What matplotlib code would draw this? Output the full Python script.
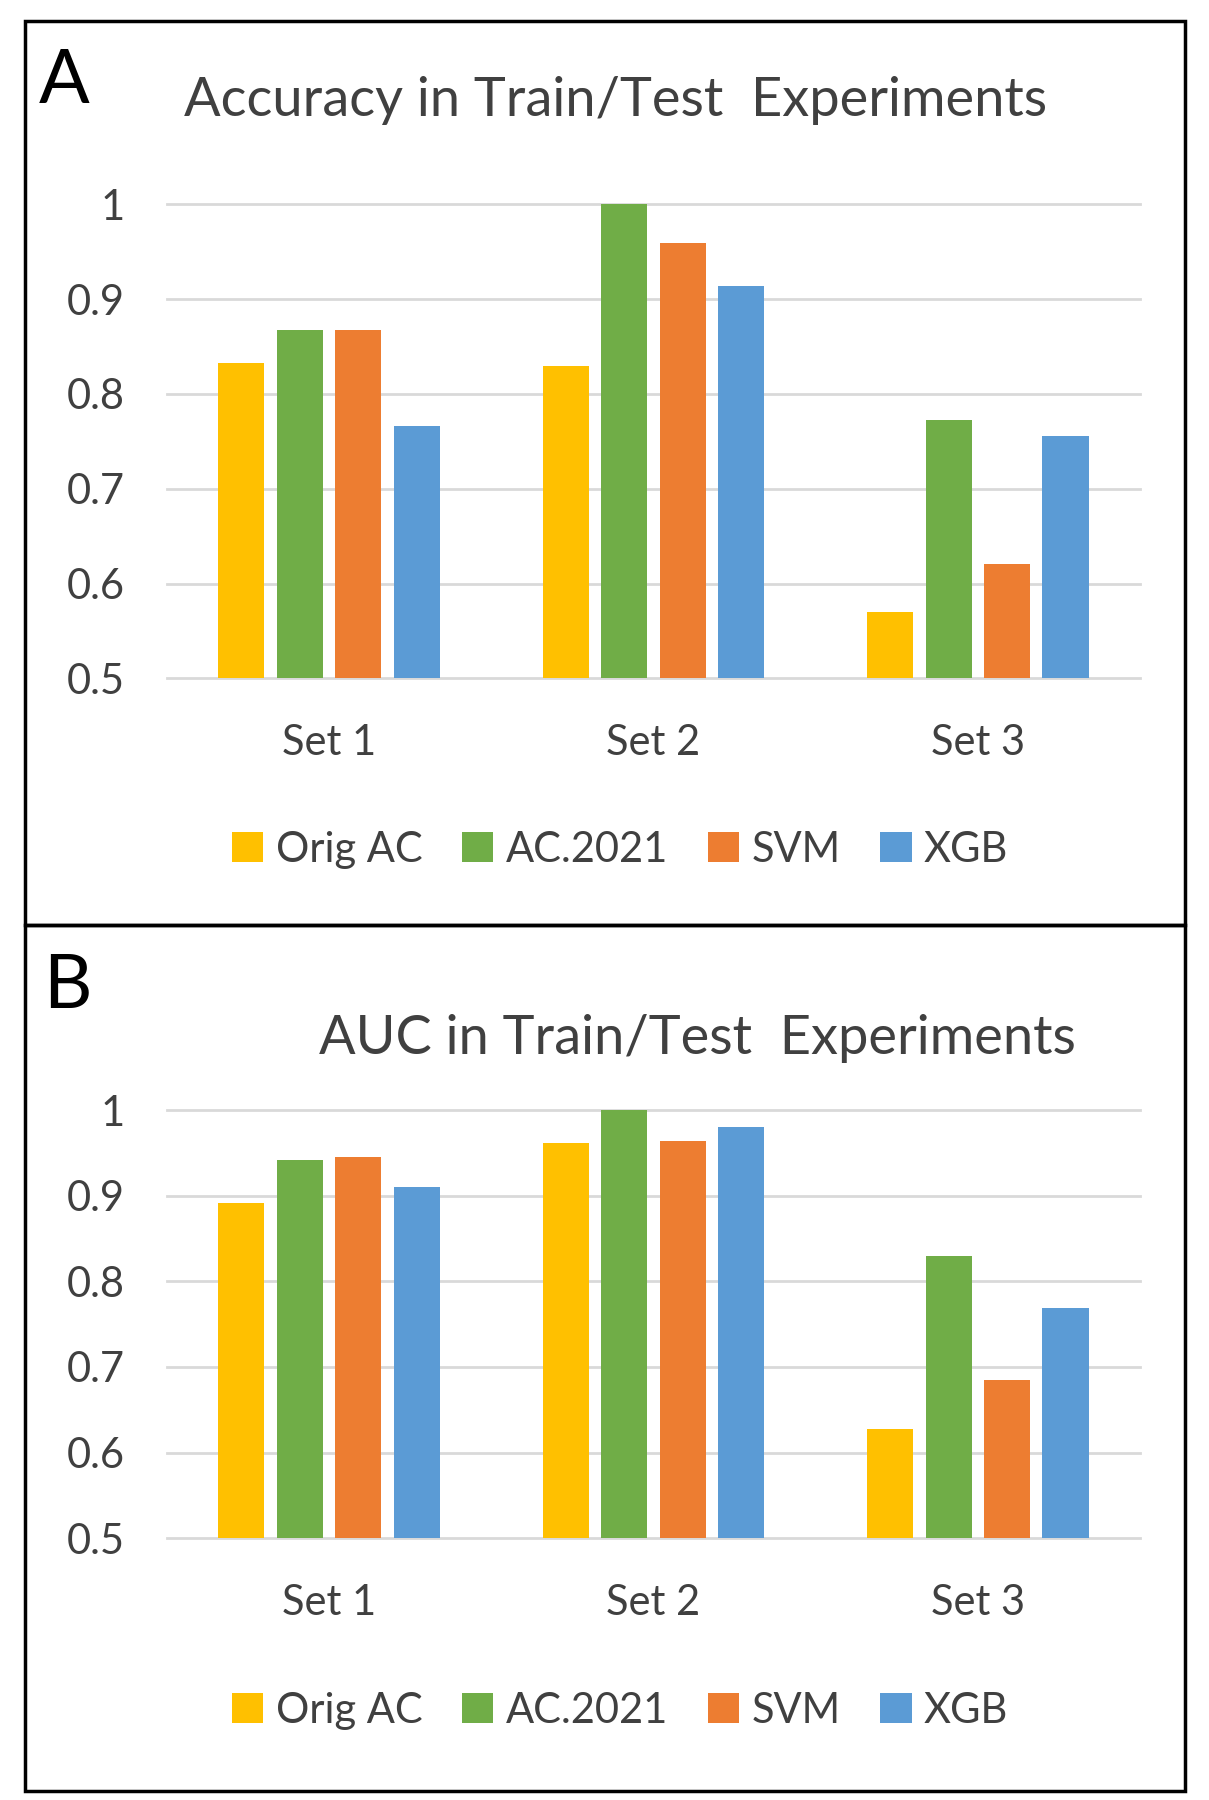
import matplotlib.pyplot as plt
from matplotlib.patches import Patch, Rectangle

plt.rcParams['font.family'] = ['Lato', 'DejaVu Sans']

# data
sets = ["Set 1", "Set 2", "Set 3"]
models = ["Orig AC", "AC.2021", "SVM", "XGB"]
colors = ["#FFC000", "#70AD47", "#ED7D31", "#5B9BD5"]

acc_orig = [0.833, 0.829, 0.570]
acc_ac2021 = [0.867, 1.000, 0.773]
acc_svm = [0.867, 0.959, 0.621]
acc_xgb = [0.766, 0.914, 0.756]

auc_orig = [0.892, 0.961, 0.628]
auc_ac2021 = [0.942, 1.000, 0.830]
auc_svm = [0.945, 0.964, 0.685]
auc_xgb = [0.910, 0.980, 0.769]

yticks = [0.5, 0.6, 0.7, 0.8, 0.9, 1.0]
ytick_labels = ["0.5", "0.6", "0.7", "0.8", "0.9", "1"]

fig = plt.figure(figsize=(12.09, 18.0), dpi=100)


def panel(rect, series, title, title_xy, letter_xy, letter, legend_xy):
    ax = fig.add_axes(rect)
    step = 0.18
    width = 0.142
    offsets = [-1.5 * step, -0.5 * step, 0.5 * step, 1.5 * step]
    for vals, off, c in zip(series, offsets, colors):
        ax.bar([i + off for i in range(len(sets))], [v - 0.5 for v in vals],
               bottom=0.5, width=width, color=c, zorder=3)
    ax.set_xlim(-0.5, 2.5)
    ax.set_ylim(0.5, 1.0)
    ax.set_yticks(yticks, ytick_labels)
    ax.set_xticks(range(len(sets)), sets)
    ax.yaxis.grid(True, color="#d9d9d9", lw=2)
    ax.set_axisbelow(True)
    for s in ax.spines.values():
        s.set_visible(False)
    ax.tick_params(axis="both", length=0, labelsize=30, colors="#404040")
    ax.tick_params(axis="y", pad=30)
    ax.tick_params(axis="x", pad=33)
    for gl in ax.get_ygridlines():
        gl.set_clip_on(False)

    fig.text(title_xy[0], title_xy[1], title, fontsize=39, color="#404040",
             ha="center", va="center")
    fig.text(letter_xy[0], letter_xy[1], letter, fontsize=54, color="black",
             ha="left", va="baseline")
    handles = [Patch(facecolor=c) for c in colors]
    fig.legend(handles, models, loc="center", bbox_to_anchor=legend_xy,
               ncol=4, frameon=False, fontsize=30, handlelength=0.75,
               handleheight=0.75, handletextpad=0.3, columnspacing=0.95,
               labelcolor="#404040")
    return ax


panel([0.138, 0.6231, 0.805, 0.2634],
      [acc_orig, acc_ac2021, acc_svm, acc_xgb],
      "Accuracy in Train/Test  Experiments", (0.509, 0.944),
      (0.032, 0.9426), "A", (0.513, 0.528))

panel([0.138, 0.1454, 0.805, 0.2379],
      [auc_orig, auc_ac2021, auc_svm, auc_xgb],
      "AUC in Train/Test  Experiments", (0.577, 0.423),
      (0.036, 0.44), "B", (0.513, 0.0497))

# panel frames
fig.patches.append(Rectangle((0.0209, 0.486), 0.959, 0.5026, fill=False,
                             lw=2.5, ec="black", transform=fig.transFigure))
fig.patches.append(Rectangle((0.0209, 0.0051), 0.959, 0.4809, fill=False,
                             lw=2.5, ec="black", transform=fig.transFigure))

fig.savefig("out.png", dpi=100)
